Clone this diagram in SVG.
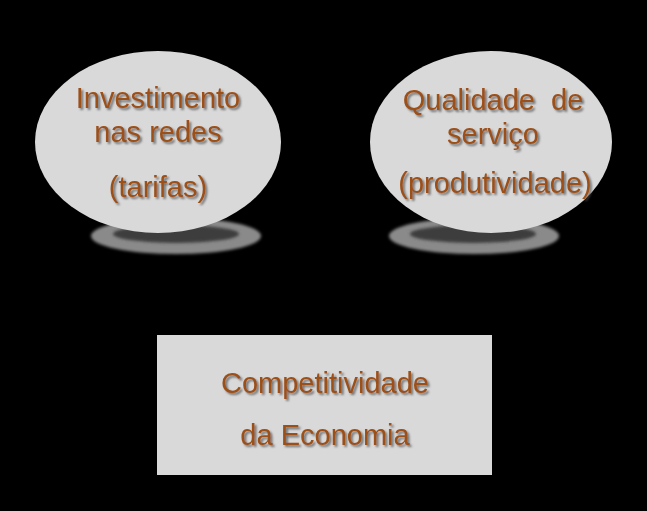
<svg xmlns="http://www.w3.org/2000/svg" width="647" height="511" viewBox="0 0 647 511">
<defs>
<filter id="tshadow" x="-10%" y="-20%" width="120%" height="150%">
<feDropShadow dx="2" dy="2" stdDeviation="0.8" flood-color="#4a4a4a" flood-opacity="0.75"/>
</filter>
<filter id="soft" x="-10%" y="-50%" width="120%" height="200%">
<feGaussianBlur stdDeviation="1.5"/>
</filter>
<style>
.lbl{font-family:"Liberation Sans",Arial,sans-serif;font-size:29px;fill:#9c4f17;text-anchor:middle;filter:url(#tshadow);white-space:pre}
.node{fill:#d9d9d9}
.pad{fill:#8a8a8a;filter:url(#soft)}
.padin{fill:#3e3e3e;filter:url(#soft)}
</style>
</defs>
<rect x="0" y="0" width="647" height="511" fill="#000"/>
<g id="connectors"></g>
<g id="node-investimento">
<ellipse class="pad" cx="176" cy="236" rx="85" ry="18"/>
<ellipse class="padin" cx="176" cy="234" rx="63" ry="9"/>
<ellipse class="node" cx="158" cy="142" rx="123" ry="91"/>
<text class="lbl" x="158" y="108">Investimento</text>
<text class="lbl" x="158" y="142">nas redes</text>
<text class="lbl" x="158" y="197">(tarifas)</text>
</g>
<g id="node-qualidade">
<ellipse class="pad" cx="474" cy="236" rx="85" ry="18"/>
<ellipse class="padin" cx="473" cy="234" rx="63" ry="9"/>
<ellipse class="node" cx="491" cy="142" rx="121" ry="91"/>
<text class="lbl" x="493" y="110" xml:space="preserve">Qualidade  de</text>
<text class="lbl" x="493" y="144">serviço</text>
<text class="lbl" x="495" y="193">(produtividade)</text>
</g>
<g id="node-competitividade">
<rect class="node" x="157" y="335" width="335" height="140"/>
<text class="lbl" x="325" y="393">Competitividade</text>
<text class="lbl" x="325" y="445">da Economia</text>
</g>
</svg>
